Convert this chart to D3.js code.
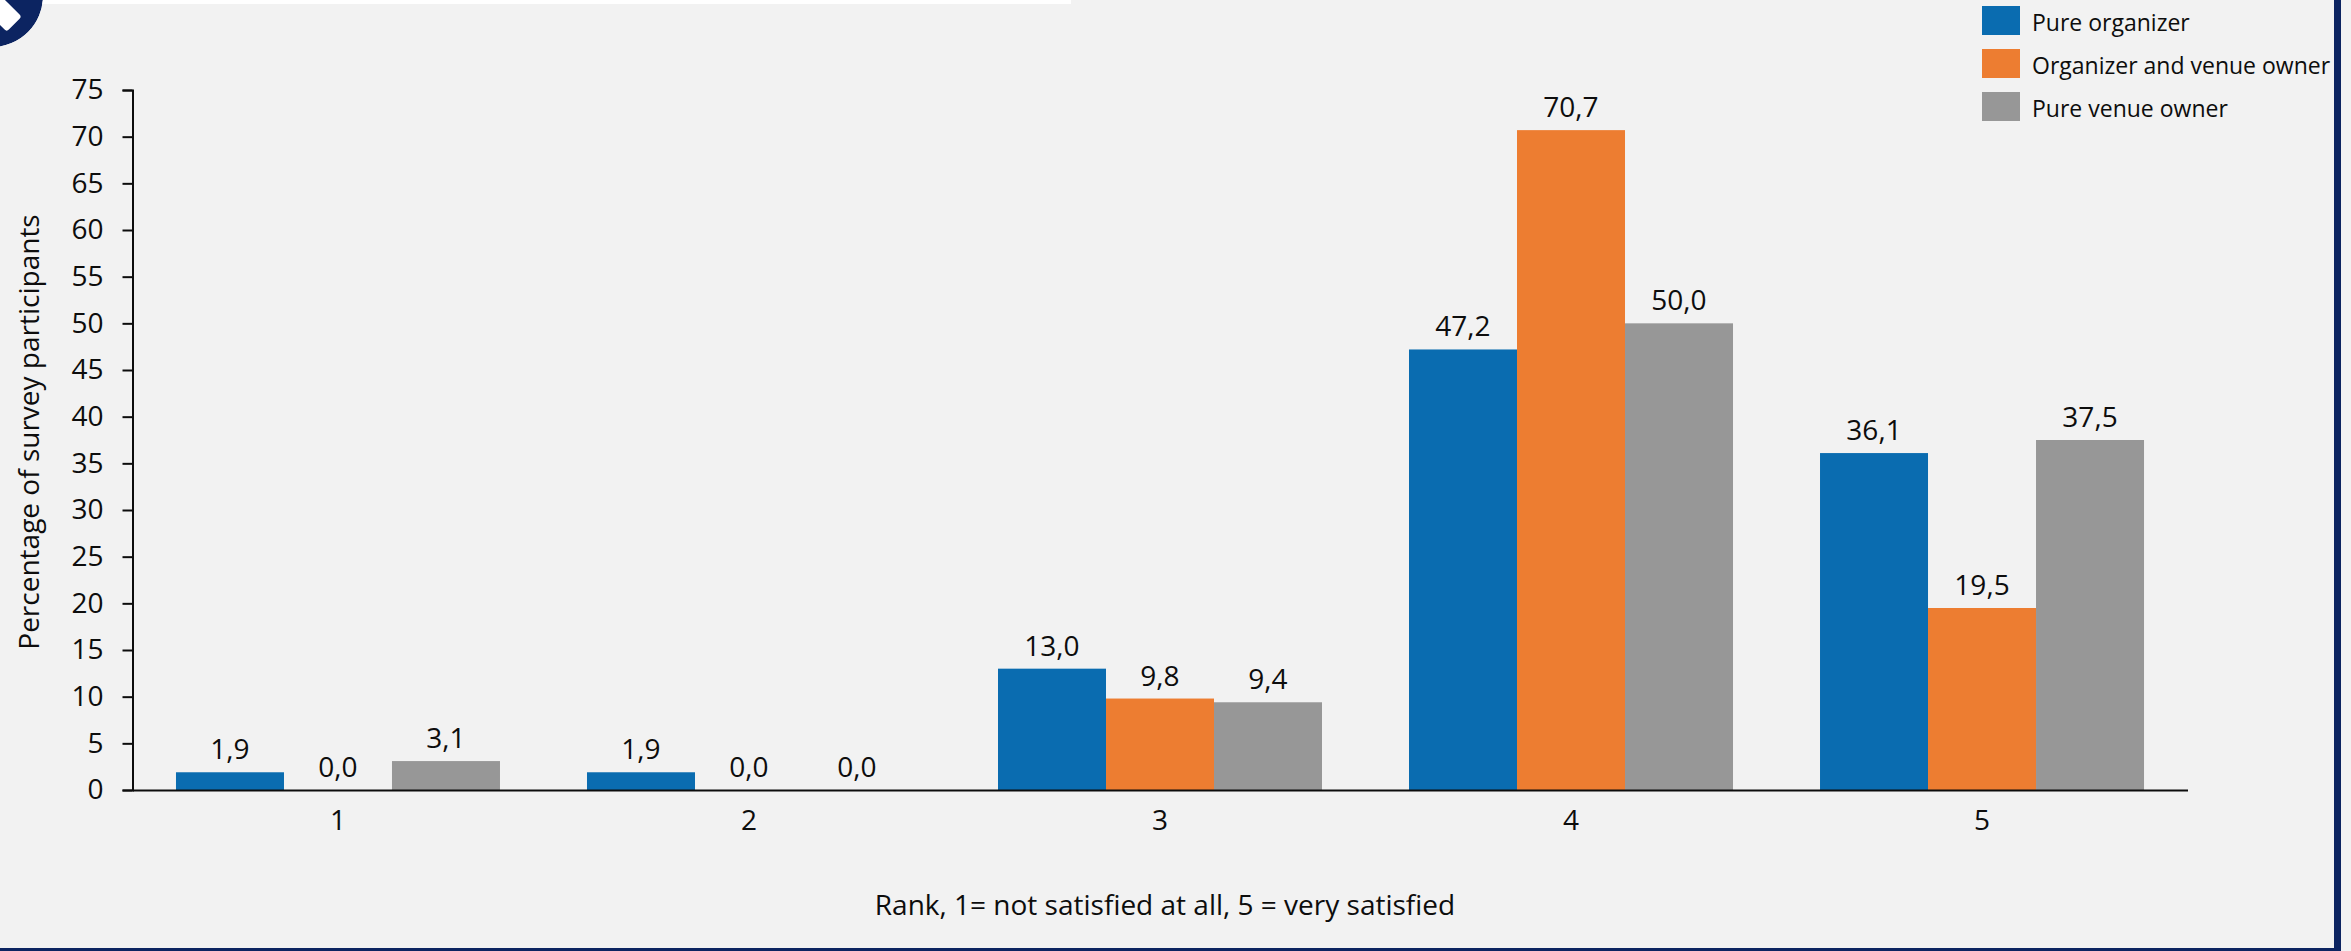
<!DOCTYPE html>
<html>
<head>
<meta charset="utf-8">
<script src="https://cdn.jsdelivr.net/npm/d3@7"></script>
<style>
  html, body { margin: 0; padding: 0; background: #f2f2f2; }
  svg { display: block; }
  text { font-family: "Open Sans", "Noto Sans", sans-serif; fill: #0d0d0d; }
</style>
</head>
<body>
<svg id="chart" width="2351" height="951"></svg>
<script>
// Satisfaction ranking by participant type (percent of survey participants)
const categories = ["1", "2", "3", "4", "5"];
const seriesNames = ["Pure organizer", "Organizer and venue owner", "Pure venue owner"];
const pureOrganizer = [1.9, 1.9, 13.0, 47.2, 36.1];
const organizerAndVenueOwner = [0.0, 0.0, 9.8, 70.7, 19.5];
const pureVenueOwner = [3.1, 0.0, 9.4, 50.0, 37.5];
const yTicks = [0, 5, 10, 15, 20, 25, 30, 35, 40, 45, 50, 55, 60, 65, 70, 75];
const xTitle = "Rank, 1= not satisfied at all, 5 = very satisfied";
const yTitle = "Percentage of survey participants";

const seriesValues = [pureOrganizer, organizerAndVenueOwner, pureVenueOwner];
const colors = ["#0a6cb0", "#ed7d31", "#979797"];
const navy = "#0c2461";

const W = 2351, H = 951;
const plot = { left: 132.5, right: 2187.5, top: 90, bottom: 790 };

const svg = d3.select("#chart");

// page background and frame pieces
svg.append("rect").attr("width", W).attr("height", H).attr("fill", "#f2f2f2");
svg.append("rect").attr("x", 0).attr("y", 0).attr("width", 1071).attr("height", 4).attr("fill", "#ffffff");
svg.append("rect").attr("x", 2334).attr("y", 0).attr("width", 7).attr("height", H).attr("fill", navy);
svg.append("rect").attr("x", 0).attr("y", 948).attr("width", 2341).attr("height", 3).attr("fill", navy);

// corner badge
const defs = svg.append("defs");
defs.append("clipPath").attr("id", "badgeClip")
  .append("circle").attr("cx", -8).attr("cy", -4).attr("r", 51);
const badge = svg.append("g").attr("clip-path", "url(#badgeClip)");
badge.append("circle").attr("cx", -8).attr("cy", -4).attr("r", 51).attr("fill", navy);
badge.append("rect")
  .attr("x", 0).attr("y", -10.6).attr("width", 70).attr("height", 21.2).attr("rx", 3)
  .attr("fill", "#ffffff")
  .attr("transform", "translate(14.2,24.2) rotate(-135)");

// scales
const x0 = d3.scaleBand()
  .domain(categories)
  .range([plot.left, plot.right])
  .paddingInner(0.2117)
  .paddingOuter(0.1058);
const x1 = d3.scaleBand()
  .domain(seriesNames)
  .range([0, x0.bandwidth()])
  .padding(0);
const y = d3.scaleLinear().domain([0, 75]).range([plot.bottom, plot.top]);

const locale = d3.formatLocale({ decimal: ",", thousands: ".", grouping: [3], currency: ["", ""] });
const fmt = locale.format(".1f");

// bars
const rows = categories.map((c, i) => ({
  cat: c,
  vals: seriesNames.map((s, j) => ({ series: s, value: seriesValues[j][i], color: colors[j] }))
}));

const groups = svg.append("g").selectAll("g")
  .data(rows).join("g")
  .attr("transform", d => `translate(${x0(d.cat)},0)`);

groups.selectAll("rect")
  .data(d => d.vals).join("rect")
  .attr("x", d => x1(d.series))
  .attr("y", d => y(d.value))
  .attr("width", x1.bandwidth())
  .attr("height", d => y(0) - y(d.value))
  .attr("fill", d => d.color);

groups.selectAll("text.value")
  .data(d => d.vals).join("text")
  .attr("class", "value")
  .attr("x", d => x1(d.series) + x1.bandwidth() / 2)
  .attr("y", d => y(d.value) - 13)
  .attr("text-anchor", "middle")
  .style("font-size", "28px")
  .text(d => fmt(d.value));

// y axis
const yAxis = svg.append("g")
  .attr("transform", `translate(${plot.left},0)`)
  .call(d3.axisLeft(y).tickValues(yTicks).tickSize(10).tickSizeOuter(10).tickPadding(19).tickFormat(d3.format("d")));
yAxis.selectAll("path, line").attr("stroke", "#0d0d0d").attr("stroke-width", 2);
yAxis.selectAll("text").style("font-size", "28px").attr("fill", "#0d0d0d");

// x axis (line only, no ticks)
const xAxis = svg.append("g")
  .attr("transform", `translate(0,${plot.bottom})`)
  .call(d3.axisBottom(x0).tickSize(0).tickSizeOuter(0).tickPadding(20));
xAxis.select(".domain").attr("stroke", "#0d0d0d").attr("stroke-width", 2);
xAxis.selectAll("text").style("font-size", "28px").attr("fill", "#0d0d0d");

// axis titles
svg.append("text")
  .attr("x", (plot.left + plot.right) / 2 + 5)
  .attr("y", 915)
  .attr("text-anchor", "middle")
  .style("font-size", "28px")
  .text(xTitle);

svg.append("text")
  .attr("transform", `translate(39,${(plot.top + plot.bottom) / 2 - 8}) rotate(-90)`)
  .attr("text-anchor", "middle")
  .style("font-size", "28px")
  .text(yTitle);

// legend
const legend = svg.append("g").attr("transform", "translate(1982,6)");
const items = legend.selectAll("g")
  .data(seriesNames).join("g")
  .attr("transform", (d, i) => `translate(0,${i * 43})`);
items.append("rect")
  .attr("width", 38).attr("height", 29)
  .attr("fill", (d, i) => colors[i]);
items.append("text")
  .attr("x", 50).attr("y", 24.7)
  .style("font-size", "23px")
  .text(d => d);
</script>
</body>
</html>
